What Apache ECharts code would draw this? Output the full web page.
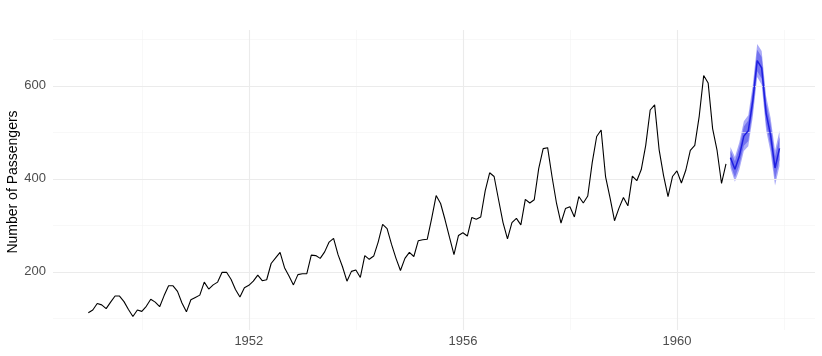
<!DOCTYPE html>
<html><head><meta charset="utf-8">
<script src="https://cdn.jsdelivr.net/npm/echarts@6/dist/echarts.min.js"></script>
<style>html,body{margin:0;padding:0;background:#fff}#c{width:822px;height:356px}</style>
</head><body><div id="c"></div>
<script>
// Monthly airline passengers 1949-1960 (thousands)
const startYear = 1949;
const passengers = [
112,118,132,129,121,135,148,148,136,119,104,118,
115,126,141,135,125,149,170,170,158,133,114,140,
145,150,178,163,172,178,199,199,184,162,146,166,
171,180,193,181,183,218,230,242,209,191,172,194,
196,196,236,235,229,243,264,272,237,211,180,201,
204,188,235,227,234,264,302,293,259,229,203,229,
242,233,267,269,270,315,364,347,312,274,237,278,
284,277,317,313,318,374,413,405,355,306,271,306,
315,301,356,348,355,422,465,467,404,347,305,336,
340,318,362,348,363,435,491,505,404,359,310,337,
360,342,406,396,420,472,548,559,463,407,362,405,
417,391,419,461,472,535,622,606,508,461,390,432];
// Forecast for 1961
const fcStart = 1961;
const fcMean = [445.6,420.4,449.2,491.8,503.4,566.9,654.3,638.6,540.9,494.1,423.3,465.5];
const lo80 = [430.9,403.1,429.8,471.0,481.6,544.3,631.1,615.0,516.9,469.9,398.8,440.8];
const hi80 = [460.4,437.7,468.6,512.7,525.2,589.5,677.4,662.2,564.9,518.4,447.8,490.2];
const lo95 = [423.1,393.9,419.5,460.0,470.0,532.3,618.8,602.5,504.2,457.0,385.9,427.8];
const hi95 = [468.2,446.9,478.9,523.7,536.8,601.4,689.7,674.7,577.6,531.2,460.8,503.3];
const xMajor = [1952,1956,1960];
const xMinor = [1950,1954,1958,1962];
const yMajor = [200,400,600];
const yMinor = [100,300,500,700];
const yTitle = 'Number of Passengers';

const obs = passengers.map((v,i)=>[startYear + i/12, v]);
const fx = i => fcStart + i/12;
const fc = fcMean.map((v,i)=>[fx(i), v]);

const chart = echarts.init(document.getElementById('c'), null, {renderer:'canvas'});
const font = 'Liberation Sans, Arial, Helvetica, sans-serif';
const gl = (vals, axis, color, width) => vals.map(v => ({[axis]: v, lineStyle:{color, width, type:'solid'}}));

function bandSeries(lo, hi, color, z){
  return {type:'custom', z, silent:true, data:[0],
    renderItem:(params, api)=>{
      const pts = [];
      for (let i=0;i<lo.length;i++) pts.push(api.coord([fx(i), hi[i]]));
      for (let i=lo.length-1;i>=0;i--) pts.push(api.coord([fx(i), lo[i]]));
      return {type:'polygon', shape:{points:pts}, style:{fill:color, stroke:null}};
    }};
}

chart.setOption({
  animation:false,
  graphic:[{type:'text', x:13, y:182, rotation:Math.PI/2,
    style:{text:yTitle, fill:'#000', font:'14px ' + font, align:'center', verticalAlign:'middle'}}],
  grid:{left:53, right:7, top:30, height:300, containLabel:false, outerBoundsMode:'none'},
  xAxis:{type:'value', min:1948.34, max:1962.58,
    axisLine:{show:false}, axisTick:{show:false}, splitLine:{show:false},
    axisLabel:{customValues:xMajor, color:'#4d4d4d', fontSize:13, fontFamily:font, margin:5, formatter:v=>String(Math.round(v))}},
  yAxis:{type:'value', min:75, max:720,
    axisLine:{show:false}, axisTick:{show:false}, splitLine:{show:false},
    axisLabel:{customValues:yMajor, color:'#4d4d4d', fontSize:13, fontFamily:font, margin:7}},
  series:[
    {type:'line', data:[], silent:true,
      markLine:{silent:true, symbol:'none', label:{show:false}, animation:false,
        data:[].concat(gl(xMinor,'xAxis','#f3f3f3',0.6), gl(yMinor,'yAxis','#f3f3f3',0.6),
                       gl(xMajor,'xAxis','#ebebeb',1.1), gl(yMajor,'yAxis','#ebebeb',1.1))}},
    {type:'line', data:obs, showSymbol:false, lineStyle:{color:'#000', width:1.1}, z:5},
    bandSeries(lo95, hi95, '#aaaaf7', 2),
    bandSeries(lo80, hi80, '#7373ef', 3),
    {type:'line', data:fc, showSymbol:false, lineStyle:{color:'#1f1fe0', width:1.5}, z:6}
  ]
});
</script></body></html>
